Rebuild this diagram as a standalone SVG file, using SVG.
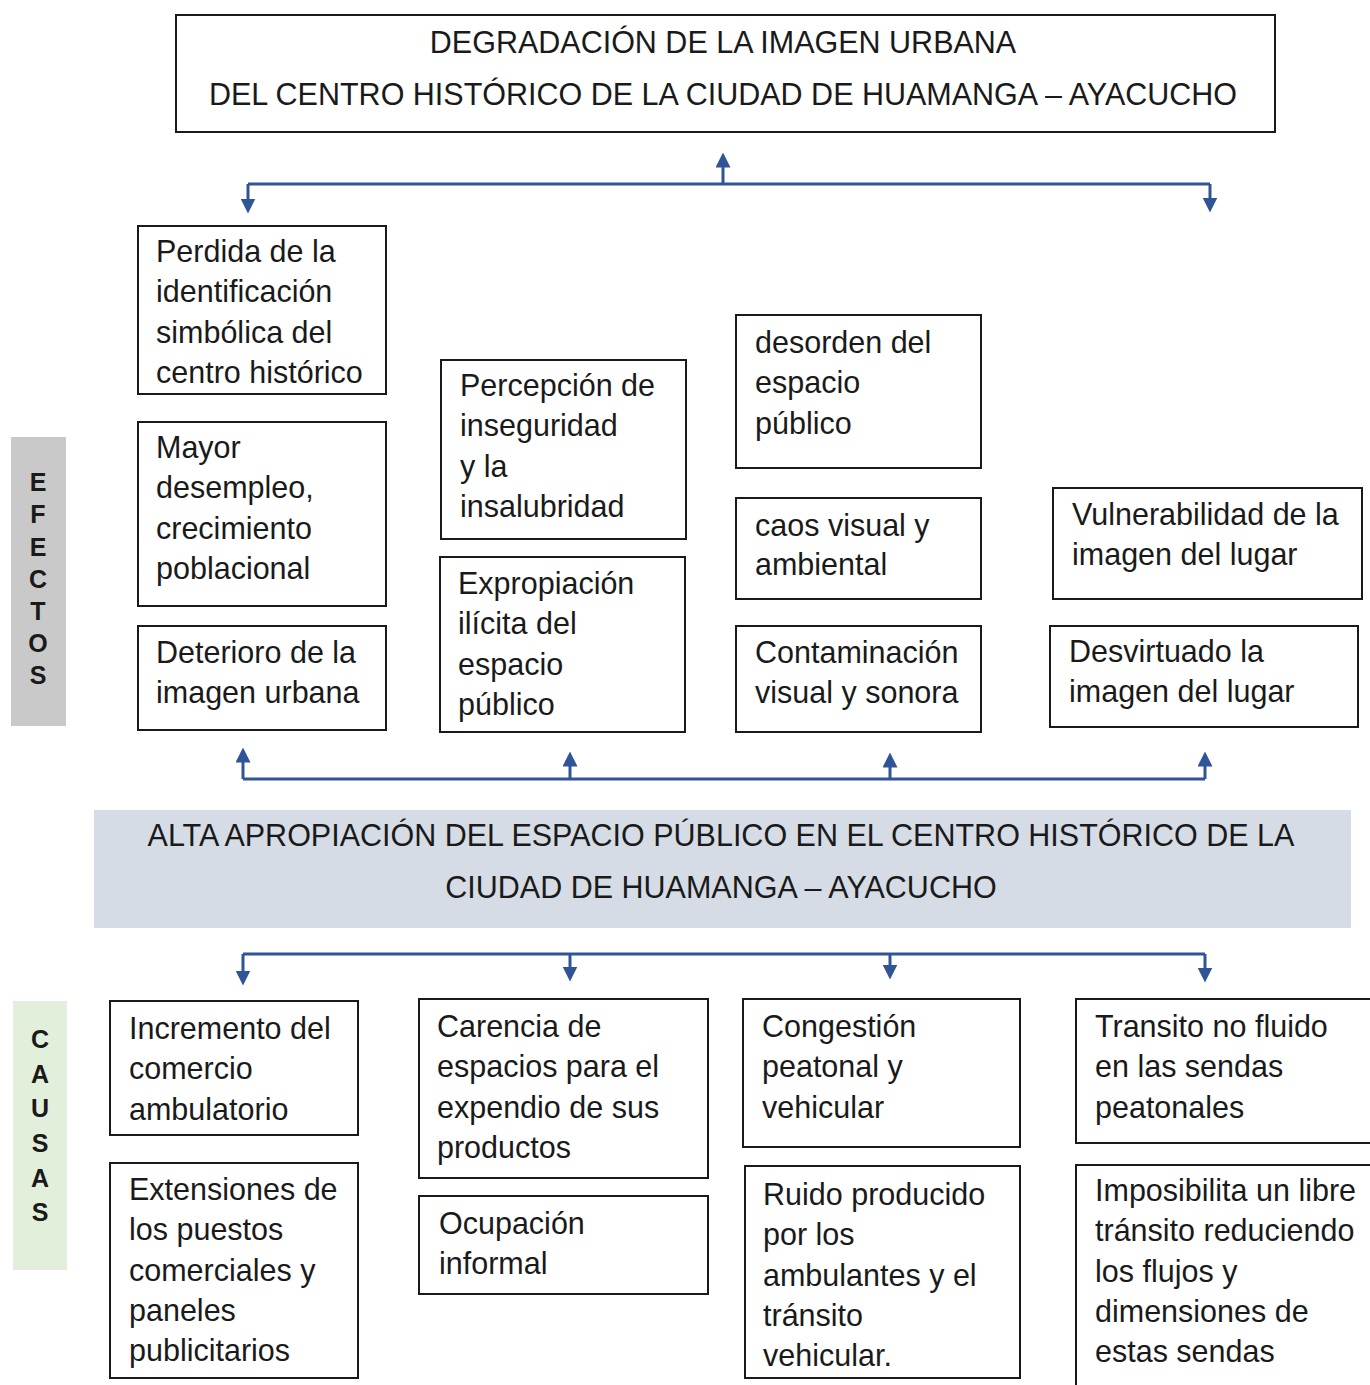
<svg xmlns="http://www.w3.org/2000/svg" width="1370" height="1385" viewBox="0 0 1370 1385">
<defs>
<marker id="ah" viewBox="0 0 10 10" refX="7" refY="5" markerWidth="15" markerHeight="15" markerUnits="userSpaceOnUse" orient="auto">
<path d="M0,0 L10,5 L0,10 z" fill="#2f5597"/>
</marker>
</defs>
<style>
.box{fill:#fff;stroke:#1a1a1a;stroke-width:2}
.t{font-family:"Liberation Sans",Arial,sans-serif;font-size:30.5px;fill:#1a1a1a}
.c{text-anchor:middle}
.side{font-family:"Liberation Sans",Arial,sans-serif;font-size:25px;font-weight:bold;fill:#1a1a1a;text-anchor:middle}
.ln{stroke:#2f5597;stroke-width:3;fill:none}
.ar{stroke:#2f5597;stroke-width:3;fill:none;marker-end:url(#ah)}
</style>
<rect width="1370" height="1385" fill="#fff"/>

<g id="title">
<rect class="box" x="176" y="15" width="1099" height="117"/>
<text class="t c" x="723" y="53">DEGRADACIÓN DE LA IMAGEN URBANA</text>
<text class="t c" x="723" y="105">DEL CENTRO HISTÓRICO DE LA CIUDAD DE HUAMANGA – AYACUCHO</text>
</g>

<g id="efectos-label">
<rect x="11" y="437" width="55" height="289" fill="#c9c9c9"/>
<text class="side" x="38" y="491">E</text>
<text class="side" x="38" y="523">F</text>
<text class="side" x="38" y="556">E</text>
<text class="side" x="38" y="588">C</text>
<text class="side" x="38" y="620">T</text>
<text class="side" x="38" y="652">O</text>
<text class="side" x="38" y="684">S</text>
</g>

<g id="causas-label">
<rect x="13" y="1001" width="54" height="269" fill="#e2efda"/>
<text class="side" x="40" y="1048">C</text>
<text class="side" x="40" y="1083">A</text>
<text class="side" x="40" y="1117">U</text>
<text class="side" x="40" y="1152">S</text>
<text class="side" x="40" y="1187">A</text>
<text class="side" x="40" y="1221">S</text>
</g>

<g id="e1">
<rect class="box" x="138" y="226" width="248" height="168"/>
<text class="t" x="156" y="262">Perdida de la</text>
<text class="t" x="156" y="302">identificación</text>
<text class="t" x="156" y="343">simbólica del</text>
<text class="t" x="156" y="383">centro histórico</text>
</g>
<g id="e2">
<rect class="box" x="138" y="422" width="248" height="184"/>
<text class="t" x="156" y="458">Mayor</text>
<text class="t" x="156" y="498">desempleo,</text>
<text class="t" x="156" y="539">crecimiento</text>
<text class="t" x="156" y="579">poblacional</text>
</g>
<g id="e3">
<rect class="box" x="138" y="626" width="248" height="104"/>
<text class="t" x="156" y="663">Deterioro de la</text>
<text class="t" x="156" y="703">imagen urbana</text>
</g>
<g id="e4">
<rect class="box" x="441" y="360" width="245" height="179"/>
<text class="t" x="460" y="396">Percepción de</text>
<text class="t" x="460" y="436">inseguridad</text>
<text class="t" x="460" y="477">y la</text>
<text class="t" x="460" y="517">insalubridad</text>
</g>
<g id="e5">
<rect class="box" x="440" y="557" width="245" height="175"/>
<text class="t" x="458" y="594">Expropiación</text>
<text class="t" x="458" y="634">ilícita del</text>
<text class="t" x="458" y="675">espacio</text>
<text class="t" x="458" y="715">público</text>
</g>
<g id="e6">
<rect class="box" x="736" y="315" width="245" height="153"/>
<text class="t" x="755" y="353">desorden del</text>
<text class="t" x="755" y="393">espacio</text>
<text class="t" x="755" y="434">público</text>
</g>
<g id="e7">
<rect class="box" x="736" y="498" width="245" height="101"/>
<text class="t" x="755" y="536">caos visual y</text>
<text class="t" x="755" y="575">ambiental</text>
</g>
<g id="e8">
<rect class="box" x="736" y="626" width="245" height="106"/>
<text class="t" x="755" y="663">Contaminación</text>
<text class="t" x="755" y="703">visual y sonora</text>
</g>
<g id="e9">
<rect class="box" x="1053" y="488" width="309" height="111"/>
<text class="t" x="1072" y="525">Vulnerabilidad de la</text>
<text class="t" x="1072" y="565">imagen del lugar</text>
</g>
<g id="e10">
<rect class="box" x="1050" y="626" width="308" height="101"/>
<text class="t" x="1069" y="662">Desvirtuado la</text>
<text class="t" x="1069" y="702">imagen del lugar</text>
</g>

<g id="problema">
<rect x="94" y="810" width="1257" height="118" fill="#d6dce5"/>
<text class="t c" x="721" y="846">ALTA APROPIACIÓN DEL ESPACIO PÚBLICO EN EL CENTRO HISTÓRICO DE LA</text>
<text class="t c" x="721" y="898">CIUDAD DE HUAMANGA – AYACUCHO</text>
</g>

<g id="c1">
<rect class="box" x="110" y="1001" width="248" height="134"/>
<text class="t" x="129" y="1039">Incremento del</text>
<text class="t" x="129" y="1079">comercio</text>
<text class="t" x="129" y="1120">ambulatorio</text>
</g>
<g id="c2">
<rect class="box" x="110" y="1163" width="248" height="215"/>
<text class="t" x="129" y="1200">Extensiones de</text>
<text class="t" x="129" y="1240">los puestos</text>
<text class="t" x="129" y="1281">comerciales y</text>
<text class="t" x="129" y="1321">paneles</text>
<text class="t" x="129" y="1361">publicitarios</text>
</g>
<g id="c3">
<rect class="box" x="419" y="999" width="289" height="179"/>
<text class="t" x="437" y="1037">Carencia de</text>
<text class="t" x="437" y="1077">espacios para el</text>
<text class="t" x="437" y="1118">expendio de sus</text>
<text class="t" x="437" y="1158">productos</text>
</g>
<g id="c4">
<rect class="box" x="419" y="1196" width="289" height="98"/>
<text class="t" x="439" y="1234">Ocupación</text>
<text class="t" x="439" y="1274">informal</text>
</g>
<g id="c5">
<rect class="box" x="743" y="999" width="277" height="148"/>
<text class="t" x="762" y="1037">Congestión</text>
<text class="t" x="762" y="1077">peatonal y</text>
<text class="t" x="762" y="1118">vehicular</text>
</g>
<g id="c6">
<rect class="box" x="745" y="1166" width="275" height="212"/>
<text class="t" x="763" y="1205">Ruido producido</text>
<text class="t" x="763" y="1245">por los</text>
<text class="t" x="763" y="1286">ambulantes y el</text>
<text class="t" x="763" y="1326">tránsito</text>
<text class="t" x="763" y="1366">vehicular.</text>
</g>
<g id="c7">
<rect class="box" x="1076" y="999" width="310" height="144"/>
<text class="t" x="1095" y="1037">Transito no fluido</text>
<text class="t" x="1095" y="1077">en las sendas</text>
<text class="t" x="1095" y="1118">peatonales</text>
</g>
<g id="c8">
<rect class="box" x="1076" y="1165" width="310" height="240"/>
<text class="t" x="1095" y="1201">Imposibilita un libre</text>
<text class="t" x="1095" y="1241">tránsito reduciendo</text>
<text class="t" x="1095" y="1282">los flujos y</text>
<text class="t" x="1095" y="1322">dimensiones de</text>
<text class="t" x="1095" y="1362">estas sendas</text>
</g>

<g id="connectors">
<path class="ln" d="M248,184 H1210"/>
<path class="ar" d="M723,184 V157"/>
<path class="ar" d="M248,184 V209"/>
<path class="ar" d="M1210,184 V208"/>

<path class="ln" d="M243,779 H1205"/>
<path class="ar" d="M243,779 V752"/>
<path class="ar" d="M570,779 V756"/>
<path class="ar" d="M890,779 V757"/>
<path class="ar" d="M1205,779 V756"/>

<path class="ln" d="M243,954 H1205"/>
<path class="ar" d="M243,954 V981"/>
<path class="ar" d="M570,954 V977"/>
<path class="ar" d="M890,954 V975"/>
<path class="ar" d="M1205,954 V978"/>
</g>
</svg>
